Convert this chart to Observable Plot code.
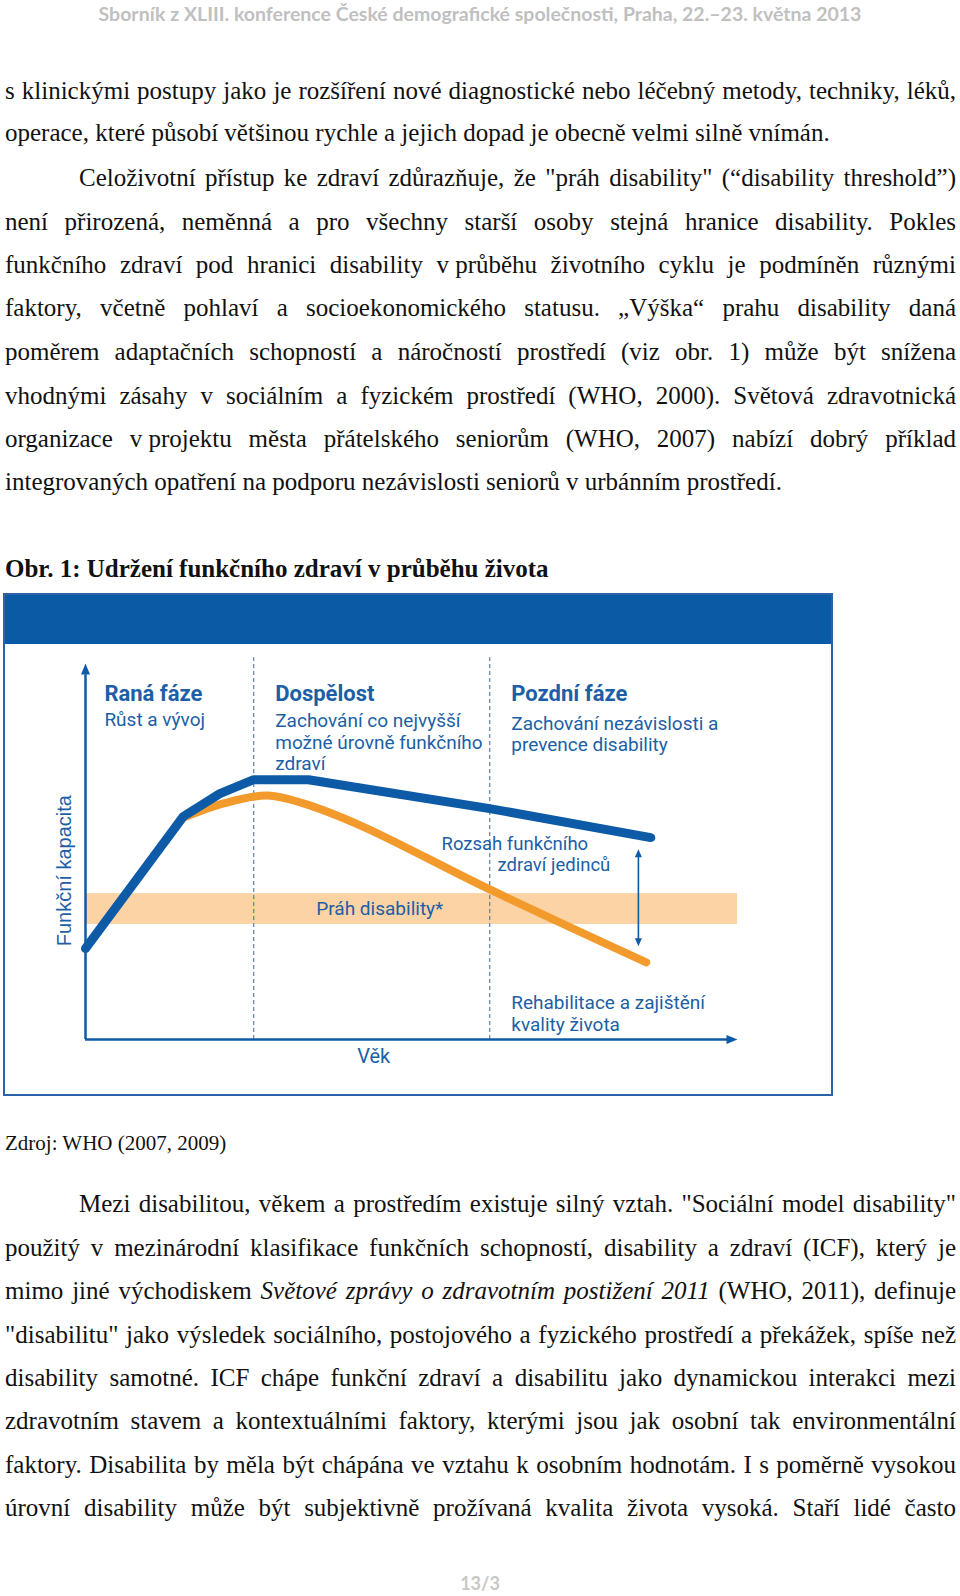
<!DOCTYPE html>
<html lang="cs">
<head>
<meta charset="utf-8">
<script src="https://cdn.jsdelivr.net/npm/d3@7"></script>
<script src="https://cdn.jsdelivr.net/npm/@observablehq/plot@0.6"></script>
<style>
  html, body { margin: 0; padding: 0; background: #fff; }
  body { position: relative; width: 960px; height: 1596px; overflow: hidden; }
  .hdr { position: absolute; left: 0; width: 960px; top: 2px; text-align: center;
         font-family: Lato, "Open Sans", sans-serif; font-weight: 700; font-size: 19.5px;
         color: #c0c0c0; line-height: 24px; }
  .ln { position: absolute; left: 5px; width: 951px; height: 28px; line-height: 28px;
        font-family: "Liberation Serif", "Times New Roman", serif; font-size: 25px; color: #111;
        white-space: nowrap; }
  .ind { padding-left: 74px; width: 877px; }
  .ns { word-spacing: 0; }
  .b { font-weight: 700; }
  .src { font-size: 21px; }
  .pg { position: absolute; left: 0; width: 960px; top: 1571px; text-align: center;
        font-family: Lato, sans-serif; font-weight: 700; font-size: 18px; color: #c8c8c8; line-height: 24px; }
  #fig { position: absolute; left: 3px; top: 593px; width: 830px; height: 503px; }
  #frame { position: absolute; left: 0; top: 0; width: 826px; height: 499px; border: 2px solid #2a63a7; }
  #band { position: absolute; left: 0; top: 0; width: 830px; height: 51px; background: #0a5aa6; }
  #chart { position: absolute; left: 0; top: 0; }
</style>
</head>
<body>
<div class="hdr">Sborník z XLIII. konference České demografické společnosti, Praha, 22.–23. května 2013</div>

<div class="ln j" style="top:77px">s klinickými postupy jako je rozšíření nové diagnostické nebo léčebný metody, techniky, léků,</div>
<div class="ln" style="top:119px">operace, které působí většinou rychle a jejich dopad je obecně velmi silně vnímán.</div>
<div class="ln j ind" style="top:164px">Celoživotní přístup ke zdraví zdůrazňuje, že "práh disability" (“disability threshold”)</div>
<div class="ln j" style="top:208px">není přirozená, neměnná a pro všechny starší osoby stejná hranice disability. Pokles</div>
<div class="ln j" style="top:251px">funkčního zdraví pod hranici disability <span class="ns">v průběhu</span> životního cyklu je podmíněn různými</div>
<div class="ln j" style="top:294px">faktory, včetně pohlaví a socioekonomického statusu. „Výška“ prahu disability daná</div>
<div class="ln j" style="top:338px">poměrem adaptačních schopností a náročností prostředí (viz obr. 1) může být snížena</div>
<div class="ln j" style="top:382px">vhodnými zásahy v sociálním a fyzickém prostředí (WHO, 2000). Světová zdravotnická</div>
<div class="ln j" style="top:425px">organizace <span class="ns">v projektu</span> města přátelského seniorům (WHO, 2007) nabízí dobrý příklad</div>
<div class="ln" style="top:468px">integrovaných opatření na podporu nezávislosti seniorů v urbánním prostředí.</div>

<div class="ln b" style="top:555px">Obr. 1: Udržení funkčního zdraví v průběhu života</div>

<div id="fig">
  <div id="band"></div>
  <div id="frame"></div>
  <div id="chart"></div>
</div>

<div class="ln src" style="top:1129px">Zdroj: WHO (2007, 2009)</div>

<div class="ln j ind" style="top:1190px">Mezi disabilitou, věkem a prostředím existuje silný vztah. "Sociální model disability"</div>
<div class="ln j" style="top:1234px">použitý v mezinárodní klasifikace funkčních schopností, disability a zdraví (ICF), který je</div>
<div class="ln j" style="top:1277px">mimo jiné východiskem <i>Světové zprávy o zdravotním postižení 2011</i> (WHO, 2011), definuje</div>
<div class="ln j" style="top:1321px">"disabilitu" jako výsledek sociálního, postojového a fyzického prostředí a překážek, spíše než</div>
<div class="ln j" style="top:1364px">disability samotné. ICF chápe funkční zdraví a disabilitu jako dynamickou interakci mezi</div>
<div class="ln j" style="top:1407px">zdravotním stavem a kontextuálními faktory, kterými jsou jak osobní tak environmentální</div>
<div class="ln j" style="top:1451px">faktory. Disabilita by měla být chápána ve vztahu k osobním hodnotám. I s poměrně vysokou</div>
<div class="ln j" style="top:1494px">úrovní disability může být subjektivně prožívaná kvalita života vysoká. Staří lidé často</div>

<div class="pg">13/3</div>

<script>
// ---- data (schematic units: age 0–100, functional capacity 0–100) ----
const bestAge = [0, 15.0, 20.6, 25.8, 34.2, 62.0, 86.7];
const bestCapacity = [24.2, 59.3, 65.4, 69.1, 69.1, 61.4, 53.7];
const lowAge = [15.0, 21.2, 27.9, 33.4, 42.2, 62.0, 86.0];
const lowCapacity = [59.0, 62.8, 64.9, 62.8, 56.9, 39.9, 20.5];
const phaseBoundaries = [25.8, 62.0];
const thresholdBand = [30.6, 38.8];
const rangeSpan = [24.8, 50.6];
const phaseTitles = ["Raná fáze", "Dospělost", "Pozdní fáze"];
const phaseTexts = ["Růst a vývoj", "Zachování co nejvyšší\nmožné úrovně funkčního\nzdraví", "Zachování nezávislosti a\nprevence disability"];
const phaseStart = [2.9, 29.1, 65.3];
const axisLabelX = "Věk";
const axisLabelY = "Funkční kapacita";
const thresholdLabel = "Práh disability*";
const rangeLabel = ["Rozsah funkčního", "zdraví jedinců"];
const rehabLabel = "Rehabilitace a zajištění\nkvality života";

// ---- justify body lines ----
function justify() {
  document.querySelectorAll(".j").forEach(el => {
    let span = el.querySelector(":scope > span.jw");
    if (!span) {
      span = document.createElement("span");
      span.className = "jw";
      while (el.firstChild) span.appendChild(el.firstChild);
      el.appendChild(span);
    }
    span.style.wordSpacing = "0px";
    const cs = getComputedStyle(el);
    const target = el.clientWidth - parseFloat(cs.paddingLeft) - parseFloat(cs.paddingRight);
    const natural = span.getBoundingClientRect().width;
    let n = 0;
    const w = document.createTreeWalker(span, NodeFilter.SHOW_TEXT);
    while (w.nextNode()) {
      const t = w.currentNode;
      if (t.parentElement.closest(".ns")) continue;
      n += (t.nodeValue.match(/ /g) || []).length;
    }
    if (n > 0) span.style.wordSpacing = ((target - natural) / n) + "px";
  });
}
justify();
if (document.fonts && document.fonts.ready) document.fonts.ready.then(justify);

// ---- chart ----
const best = bestAge.map((a, i) => ({age: a, cap: bestCapacity[i]}));
const low = lowAge.map((a, i) => ({age: a, cap: lowCapacity[i]}));
const BLUE = "#0d5ba7", TXT = "#1c5fa6", ORANGE = "#f39a2c", BANDC = "#fbd3a5";
const NARROW = '"Liberation Sans Narrow", "Arial Narrow", Roboto, sans-serif';

function tri(dir, w, h) {
  return {
    draw(ctx) {
      if (dir === "up") { ctx.moveTo(0, 0); ctx.lineTo(w, h); ctx.lineTo(-w, h); }
      else if (dir === "down") { ctx.moveTo(0, 0); ctx.lineTo(w, -h); ctx.lineTo(-w, -h); }
      else { ctx.moveTo(0, 0); ctx.lineTo(-h, -w); ctx.lineTo(-h, w); }
      ctx.closePath();
    }
  };
}

const chart = Plot.plot({
  width: 830,
  height: 503,
  marginLeft: 82,
  marginRight: 96,
  marginTop: 70,
  marginBottom: 57,
  x: {domain: [0, 100], axis: null},
  y: {domain: [0, 100], axis: null},
  style: {background: "transparent", overflow: "visible", fontFamily: NARROW},
  marks: [
    Plot.rect([{x1: 0, x2: 100, y1: thresholdBand[0], y2: thresholdBand[1]}],
      {x1: "x1", x2: "x2", y1: "y1", y2: "y2", fill: BANDC}),
    Plot.ruleX(phaseBoundaries, {y1: 0, y2: 101.5, stroke: "#5d7fa6", strokeWidth: 1.2, strokeDasharray: "4,3"}),
    Plot.line(low, {x: "age", y: "cap", stroke: ORANGE, strokeWidth: 8, curve: "catmull-rom", strokeLinejoin: "round"}),
    Plot.line(best, {x: "age", y: "cap", stroke: BLUE, strokeWidth: 9, strokeLinejoin: "round"}),
    // axes
    Plot.ruleX([0], {y1: 0, y2: 97, stroke: BLUE, strokeWidth: 2.5}),
    Plot.ruleY([0], {x1: 0, x2: 98.5, stroke: BLUE, strokeWidth: 2.5}),
    Plot.dot([{a: 0, c: 100}], {x: "a", y: "c", symbol: tri("up", 4.5, 11), fill: BLUE, r: 5, stroke: null}),
    Plot.dot([{a: 100, c: 0}], {x: "a", y: "c", symbol: tri("right", 4.5, 11), fill: BLUE, r: 5, stroke: null}),
    // range arrow
    Plot.ruleX([84.8], {y1: rangeSpan[0] + 1.5, y2: rangeSpan[1] - 1.5, stroke: BLUE, strokeWidth: 1.6}),
    Plot.dot([{a: 84.8, c: rangeSpan[1]}], {x: "a", y: "c", symbol: tri("up", 3.5, 8), fill: BLUE, r: 4, stroke: null}),
    Plot.dot([{a: 84.8, c: rangeSpan[0]}], {x: "a", y: "c", symbol: tri("down", 3.5, 8), fill: BLUE, r: 4, stroke: null}),
    // phase labels
    Plot.text(phaseTitles, {x: (d, i) => phaseStart[i], y: 91.8, text: d => d, textAnchor: "start",
      fontSize: 22, fontWeight: 700, fill: TXT}),
    Plot.text(phaseTexts.slice(0, 1), {x: phaseStart[0], y: 85.1, text: d => d, textAnchor: "start", fontSize: 19, fill: TXT}),
    Plot.text(phaseTexts.slice(1, 2), {x: phaseStart[1], y: 79.1, text: d => d, textAnchor: "start", fontSize: 19, lineHeight: 1.13, fill: TXT}),
    Plot.text(phaseTexts.slice(2, 3), {x: phaseStart[2], y: 81.4, text: d => d, textAnchor: "start", fontSize: 19, lineHeight: 1.13, fill: TXT}),
    Plot.text([rangeLabel[0]], {x: 54.6, y: 51.9, text: d => d, textAnchor: "start", fontSize: 18.5, fill: TXT}),
    Plot.text([rangeLabel[1]], {x: 63.2, y: 46.3, text: d => d, textAnchor: "start", fontSize: 18.5, fill: TXT}),
    Plot.text([thresholdLabel], {x: 35.4, y: 34.6, text: d => d, textAnchor: "start", fontSize: 19, fill: TXT}),
    Plot.text([rehabLabel], {x: 65.3, y: 7.0, text: d => d, textAnchor: "start", fontSize: 19, lineHeight: 1.13, fill: TXT}),
    Plot.text([axisLabelX], {x: 44.2, y: -4.5, text: d => d, fontSize: 20, fill: TXT}),
    Plot.text([axisLabelY], {x: -3.2, y: 44.9, text: d => d, rotate: -90, fontSize: 20,
      fontFamily: '"Liberation Sans", Arial, sans-serif', fill: TXT})
  ]
});
document.getElementById("chart").appendChild(chart);
</script>
</body>
</html>
